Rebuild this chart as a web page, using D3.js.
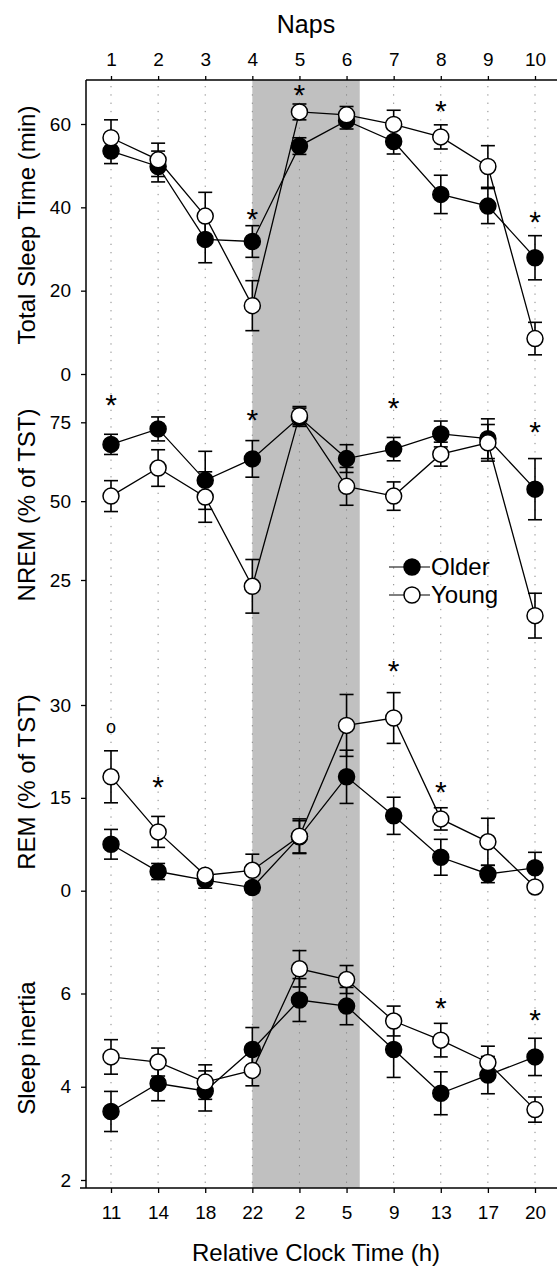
<!DOCTYPE html>
<html><head><meta charset="utf-8">
<script src="https://cdn.jsdelivr.net/npm/d3@7"></script>
<style>body{margin:0;background:#fff}svg{display:block}text{font-family:"Liberation Sans",Arial,sans-serif;fill:#000}</style>
</head><body><svg id="c" width="557" height="1268"></svg>
<script>
const naps = [1,2,3,4,5,6,7,8,9,10];
const napLabels = ["1","2","3","4","5","6","7","8","9","10"];
const clockLabels = ["11","14","18","22","2","5","9","13","17","20"];

const tstOlder = [53.5,49.8,32.3,31.8,54.7,60.8,55.8,43.1,40.3,27.9];
const tstOlderErr = [3.0,3.7,5.6,3.8,2.0,2.0,3.0,4.6,4.2,5.3];
const tstYoung = [56.7,51.4,37.9,16.4,62.9,62.2,59.9,56.9,49.8,8.5];
const tstYoungErr = [4.3,4.0,5.7,6.0,1.9,2.0,3.4,2.9,5.0,3.9];

const nremOlder = [68.0,72.9,56.6,63.4,76.6,63.5,66.5,71.3,69.8,53.8];
const nremOlderErr = [3.2,3.8,9.2,5.8,2.9,4.4,3.7,4.1,6.3,9.7];
const nremYoung = [51.6,60.5,51.3,23.0,77.1,54.7,51.6,64.9,68.5,13.7];
const nremYoungErr = [4.9,5.8,8.0,8.5,2.9,6.0,4.5,3.8,5.8,7.1];

const remOlder = [7.5,3.1,1.7,0.5,8.7,18.4,12.1,5.4,2.7,3.7];
const remOlderErr = [2.4,1.3,1.3,0.8,2.6,4.3,3.0,2.9,1.4,2.5];
const remYoung = [18.4,9.5,2.5,3.3,8.8,26.7,27.9,11.6,7.9,0.6];
const remYoungErr = [4.2,2.5,0.8,2.6,2.8,5.0,4.1,1.8,3.8,0.5];

const siOlder = [3.47,4.07,3.91,4.80,5.86,5.73,4.80,3.86,4.25,4.64];
const siOlderErr = [0.43,0.37,0.43,0.47,0.46,0.40,0.60,0.46,0.40,0.40];
const siYoung = [4.64,4.53,4.10,4.35,6.53,6.30,5.41,5.00,4.52,3.51];
const siYoungErr = [0.37,0.30,0.37,0.33,0.39,0.30,0.32,0.36,0.35,0.27];

// significance marks: [nap, value-position, symbol]
const tstMarks = [[4,39.0,"*"],[5,68.6,"*"],[8,64.8,"*"],[10,38.2,"*"]];
const nremMarks = [[1,82.6,"*"],[4,78.0,"*"],[7,81.8,"*"],[10,74.1,"*"]];
const remMarks = [[1,26.5,"o"],[2,17.9,"*"],[7,36.7,"*"],[8,17.0,"*"]];
const siMarks = [[8,5.83,"*"],[10,5.59,"*"]];

const tstTicks = [0,20,40,60];
const nremTicks = [25,50,75];
const remTicks = [0,15,30];
const siTicks = [2,4,6];

const nightStart = 4, nightEnd = 6.28;
const seriesNames = ["Older","Young"];

const svg = d3.select("#c");
const L = 86, R = 557, T = 80, B = 1188;
const x = d3.scaleLinear().domain([1,10]).range([111,535]);

const panels = [
  {title:"Total Sleep Time (min)", y:d3.scaleLinear().domain([0,60]).range([374,124]), ticks:tstTicks,
   o:tstOlder, oe:tstOlderErr, yv:tstYoung, ye:tstYoungErr, marks:tstMarks, ty:225},
  {title:"NREM (% of TST)", y:d3.scaleLinear().domain([25,75]).range([580,422.3]), ticks:nremTicks,
   o:nremOlder, oe:nremOlderErr, yv:nremYoung, ye:nremYoungErr, marks:nremMarks, ty:505},
  {title:"REM (% of TST)", y:d3.scaleLinear().domain([0,30]).range([890.7,705]), ticks:remTicks,
   o:remOlder, oe:remOlderErr, yv:remYoung, ye:remYoungErr, marks:remMarks, ty:782},
  {title:"Sleep inertia", y:d3.scaleLinear().domain([2,6]).range([1180,993.5]), ticks:siTicks,
   o:siOlder, oe:siOlderErr, yv:siYoung, ye:siYoungErr, marks:siMarks, ty:1048}
];

svg.append("rect").attr("x",x(nightStart)).attr("y",T).attr("width",x(nightEnd)-x(nightStart))
  .attr("height",B-T).attr("fill","#c0c0c0");

svg.append("g").selectAll("line").data(naps).join("line")
  .attr("x1",d=>x(d)).attr("x2",d=>x(d)).attr("y1",T+6).attr("y2",B)
  .attr("stroke","#888").attr("stroke-width",1).attr("stroke-dasharray","1.3,7");

const styleAxis = g=>{
  g.select(".domain").remove();
  g.selectAll("text").attr("font-size",19).attr("font-family","Liberation Sans, Arial, sans-serif").attr("fill","#000");
  g.selectAll("line").attr("stroke-width",1.3);
};
svg.append("g").attr("transform",`translate(0,${T})`)
  .call(d3.axisTop(x).tickValues(naps).tickFormat((d,i)=>napLabels[i]).tickSize(4).tickPadding(10)).call(styleAxis);
svg.append("g").attr("transform",`translate(0,${B})`)
  .call(d3.axisBottom(x).tickValues(naps).tickFormat((d,i)=>clockLabels[i]).tickSize(5).tickPadding(13)).call(styleAxis);

svg.append("line").attr("x1",L).attr("x2",R).attr("y1",T).attr("y2",T).attr("stroke","#000").attr("stroke-width",1.5);
svg.append("line").attr("x1",80).attr("x2",R).attr("y1",B).attr("y2",B).attr("stroke","#000").attr("stroke-width",1.5);
svg.append("line").attr("x1",L).attr("x2",L).attr("y1",T).attr("y2",B).attr("stroke","#000").attr("stroke-width",1.5);

svg.append("text").attr("x",306).attr("y",33).attr("text-anchor","middle").attr("font-size",25).text("Naps");
svg.append("text").attr("x",316).attr("y",1261).attr("text-anchor","middle").attr("font-size",24).text("Relative Clock Time (h)");

const r = 8, cap = 7;
panels.forEach(p=>{
  svg.append("g").attr("transform",`translate(${L},0)`)
    .call(d3.axisLeft(p.y).tickValues(p.ticks).tickFormat(d3.format("d")).tickSize(5).tickPadding(10)).call(styleAxis);
  svg.append("text").attr("transform",`translate(35,${p.ty}) rotate(-90)`).attr("text-anchor","middle")
    .attr("font-size",24).text(p.title);

  const series = [{v:p.o, e:p.oe, fill:"#000"},{v:p.yv, e:p.ye, fill:"#fff"}];
  series.forEach(s=>{
    const g = svg.append("g");
    const pts = naps.map((n,i)=>({n, v:s.v[i], e:s.e[i]}));
    g.append("path").datum(pts).attr("fill","none").attr("stroke","#000").attr("stroke-width",1.3)
      .attr("d",d3.line().x(d=>x(d.n)).y(d=>p.y(d.v)));
    const eb = g.selectAll("g.eb").data(pts).join("g");
    eb.append("line").attr("x1",d=>x(d.n)).attr("x2",d=>x(d.n)).attr("y1",d=>p.y(d.v-d.e)).attr("y2",d=>p.y(d.v+d.e))
      .attr("stroke","#000").attr("stroke-width",1.6);
    eb.append("line").attr("x1",d=>x(d.n)-cap).attr("x2",d=>x(d.n)+cap).attr("y1",d=>p.y(d.v+d.e)).attr("y2",d=>p.y(d.v+d.e))
      .attr("stroke","#000").attr("stroke-width",1.6);
    eb.append("line").attr("x1",d=>x(d.n)-cap).attr("x2",d=>x(d.n)+cap).attr("y1",d=>p.y(d.v-d.e)).attr("y2",d=>p.y(d.v-d.e))
      .attr("stroke","#000").attr("stroke-width",1.6);
    g.selectAll("circle").data(pts).join("circle").attr("cx",d=>x(d.n)).attr("cy",d=>p.y(d.v)).attr("r",r)
      .attr("fill",s.fill).attr("stroke","#000").attr("stroke-width",1.5);
  });

  svg.append("g").selectAll("text").data(p.marks).join("text")
    .attr("x",d=>x(d[0])).attr("y",d=>p.y(d[1]) + (d[2]==="*"?17:6))
    .attr("text-anchor","middle").attr("font-size",d=>d[2]==="*"?30:18).text(d=>d[2]);
});

const leg = svg.append("g");
[[567,"#000"],[595,"#fff"]].forEach((d,i)=>{
  leg.append("line").attr("x1",389).attr("x2",430).attr("y1",d[0]).attr("y2",d[0]).attr("stroke","#000").attr("stroke-width",1.2);
  leg.append("circle").attr("cx",412).attr("cy",d[0]).attr("r",r).attr("fill",d[1]).attr("stroke","#000").attr("stroke-width",1.5);
  leg.append("text").attr("x",431).attr("y",d[0]+8).attr("font-size",24).text(seriesNames[i]);
});
</script></body></html>
